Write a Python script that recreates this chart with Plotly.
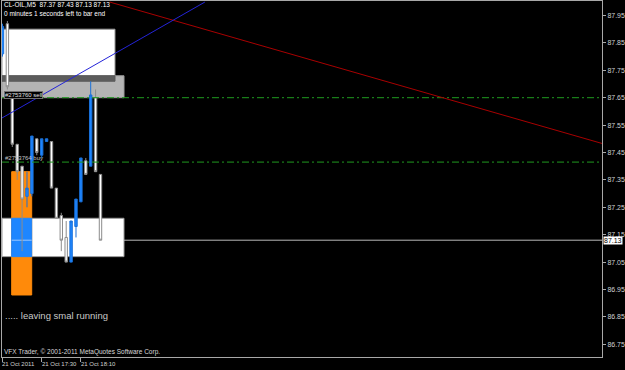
import plotly.graph_objects as go

# ---------------- data ----------------
bar_index = list(range(21))
opens  = [87.81, 87.92, 87.66, 87.48, 87.40, 87.29, 87.30, 87.50, 87.44, 87.49, 87.49,
          87.32, 87.22, 87.14, 87.05, 87.18, 87.27, 87.42, 87.40, 87.65, 87.37]
highs  = [87.92, 87.93, 87.67, 87.48, 87.40, 87.38, 87.51, 87.50, 87.50, 87.50, 87.49,
          87.32, 87.23, 87.20, 87.20, 87.28, 87.43, 87.43, 87.71, 87.68, 87.37]
lows   = [87.80, 87.68, 87.47, 87.35, 87.09, 87.25, 87.29, 87.44, 87.43, 87.49, 87.32,
          87.21, 87.09, 87.05, 87.05, 87.14, 87.27, 87.37, 87.40, 87.38, 87.13]
closes = [87.91, 87.69, 87.48, 87.38, 87.28, 87.32, 87.51, 87.45, 87.50, 87.50, 87.32,
          87.21, 87.13, 87.05, 87.20, 87.28, 87.43, 87.37, 87.66, 87.38, 87.13]

x_tick_index = [0, 8, 16]
x_tick_labels = ["21 Oct 2011", "21 Oct 17:30", "21 Oct 18:10"]
y_tick_values = [86.75, 86.85, 86.95, 87.05, 87.15, 87.25, 87.35, 87.45, 87.55, 87.65, 87.75, 87.85, 87.95]
y_tick_labels = ["86.75", "86.85", "86.95", "87.05", "87.15", "87.25", "87.35", "87.45", "87.55", "87.65", "87.75", "87.85", "87.95"]

last_price = 87.13
level_lines = [87.65, 87.415]

# trend lines (bar index, price)
red_x = [21.9, 122.35]
red_y = [87.999, 87.483]
blue_x = [-0.1, 41.3]
blue_y = [87.576, 87.999]

# zones
sell_zone_x = [-0.1, 24.8]
sell_zone_y = [87.65, 87.73]
sell_box_x = [-0.1, 22.96]
sell_box_y = [87.73, 87.90]
sell_band_x = [-0.1, 22.96]
sell_band_y = [87.71, 87.73]
buy_box_x = [-0.1, 24.8]
buy_box_y = [87.07, 87.21]
buy_orange_x = [1.88, 5.96]
buy_orange_y = [86.93, 87.38]
buy_blue_x = [1.88, 5.96]
buy_blue_y = [87.07, 87.21]

x_range = [-0.1, 122.35]
y_range = [86.7037, 88.0029]

# ---------------- figure ----------------
FONT = "Liberation Sans Narrow, Liberation Sans, Arial"
TXT = "#d0d0d0"
AX = "#a8a8a8"

fig = go.Figure()

def rect(xs, ys, fill, line=None, layer="below"):
    fig.add_shape(type="rect", xref="x", yref="y", x0=xs[0], x1=xs[1], y0=ys[0], y1=ys[1],
                  fillcolor=fill, line=dict(color=line or fill, width=1), layer=layer)

rect(sell_zone_x, sell_zone_y, "#b4b4b4", "#9a9a9a")
rect(sell_box_x, sell_box_y, "#ffffff", "#9a9a9a")
rect(sell_band_x, sell_band_y, "#5c5c5c")
rect(buy_box_x, buy_box_y, "#ffffff", "#9a9a9a")
rect(buy_orange_x, buy_orange_y, "#ff8a0a")
rect(buy_blue_x, buy_blue_y, "#1e86ff")

# price line
fig.add_shape(type="line", xref="x", yref="y", x0=buy_box_x[1], x1=x_range[1], y0=last_price, y1=last_price,
              line=dict(color="#b8b8b8", width=1), layer="below")
fig.add_shape(type="line", xref="x", yref="y", x0=buy_blue_x[0], x1=buy_blue_x[1], y0=last_price, y1=last_price,
              line=dict(color="#9cc8ff", width=1), layer="below")

# level lines
for lv in level_lines:
    fig.add_trace(go.Scatter(x=x_range, y=[lv, lv], mode="lines",
                             line=dict(color="#1f9a1f", width=1, dash="7px,3px,2px,3px"),
                             hoverinfo="skip", showlegend=False))

# trend lines
fig.add_trace(go.Scatter(x=red_x, y=red_y, mode="lines", line=dict(color="#a80000", width=1),
                         hoverinfo="skip", showlegend=False))
fig.add_trace(go.Scatter(x=blue_x, y=blue_y, mode="lines", line=dict(color="#2424d8", width=1),
                         hoverinfo="skip", showlegend=False))

fig.add_trace(go.Candlestick(
    x=bar_index, open=opens, high=highs, low=lows, close=closes,
    increasing=dict(line=dict(color="#1a70d8", width=1), fillcolor="#1e86ff"),
    decreasing=dict(line=dict(color="#8c8c8c", width=1), fillcolor="#ffffff"),
    whiskerwidth=0, showlegend=False, hoverinfo="skip"))

ann = []
ann.append(dict(xref="paper", yref="paper", x=3/625, y=1-5/370, xanchor="left", yanchor="middle",
                text="CL-OIL,M5  87.37 87.43 87.13 87.13", showarrow=False, borderpad=0,
                font=dict(family=FONT, size=6.5, color="#ffffff")))
ann.append(dict(xref="paper", yref="paper", x=3/625, y=1-13.5/370, xanchor="left", yanchor="middle",
                text="0 minutes 1 seconds left to bar end", showarrow=False, borderpad=0,
                font=dict(family=FONT, size=6.5, color="#ffffff")))
ann.append(dict(xref="paper", yref="paper", x=3/625, y=1-315/370, xanchor="left", yanchor="middle",
                text="..... leaving smal running", showarrow=False,
                font=dict(family="Liberation Sans, Arial", size=9.5, color="#c8c8c8")))
ann.append(dict(xref="paper", yref="paper", x=3/625, y=1-352/370, xanchor="left", yanchor="middle",
                text="VFX Trader, © 2001-2011 MetaQuotes Software Corp.", showarrow=False, borderpad=0,
                font=dict(family=FONT, size=6.5, color="#d8d8d8")))
ann.append(dict(xref="x", yref="y", x=0.3, y=87.66, xanchor="left", yanchor="middle",
                text="#2753760 sell", showarrow=False, bgcolor="#000000", bordercolor="#707070",
                borderwidth=1, borderpad=0, font=dict(family=FONT, size=6, color="#e0e0e0")))
ann.append(dict(xref="x", yref="y", x=0.3, y=87.43, xanchor="left", yanchor="middle",
                text="#2753764 buy", showarrow=False, borderpad=0,
                font=dict(family=FONT, size=6, color="#c0c0c0")))
for xi, lab in zip(x_tick_index, x_tick_labels):
    ann.append(dict(xref="x", yref="paper", x=xi, y=1-364/370, xanchor="left", yanchor="middle",
                    text=lab, showarrow=False, xshift=-1, borderpad=0,
                    font=dict(family=FONT, size=6, color=TXT)))
ann.append(dict(xref="paper", yref="y", x=603/625, y=last_price, xanchor="left", yanchor="middle",
                text=f"{last_price:.2f}", showarrow=False, bgcolor="#ffffff", borderpad=0,
                font=dict(family=FONT, size=7, color="#000000")))

fig.update_layout(
    width=625, height=370, margin=dict(l=0, r=0, t=0, b=0),
    paper_bgcolor="#000000", plot_bgcolor="#000000",
    showlegend=False, annotations=ann,
    xaxis=dict(domain=[2/625, 602/625], range=x_range, showgrid=False, zeroline=False,
               showline=True, linecolor=AX, linewidth=1, mirror=True,
               tickmode="array", tickvals=x_tick_index, ticks="outside", ticklen=4,
               tickcolor=AX, showticklabels=False, rangeslider=dict(visible=False), fixedrange=True),
    yaxis=dict(domain=[1-357/370, 1-1/370], range=y_range, side="right", showgrid=False, zeroline=False,
               showline=True, linecolor=AX, linewidth=1, mirror=True,
               tickmode="array", tickvals=y_tick_values, ticktext=y_tick_labels,
               ticks="outside", ticklen=3, tickcolor=AX,
               tickfont=dict(family=FONT, size=7, color=TXT), fixedrange=True),
)

fig.write_html("out.html")
